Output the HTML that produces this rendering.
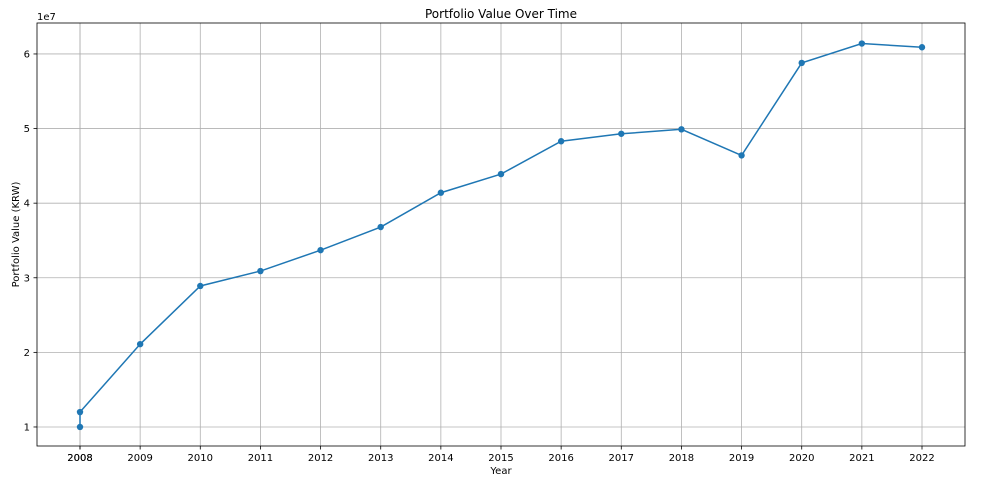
<!DOCTYPE html>
<html><head><meta charset="utf-8"><style>
body{margin:0;background:#fff;font-family:"Liberation Sans","DejaVu Sans",sans-serif;}
svg text{font-family:"DejaVu Sans","Liberation Sans",sans-serif;fill:#000}
</style></head><body>
<svg id="chart" width="988" height="484"></svg>
<script>
const years=[2008,2008,2009,2010,2011,2012,2013,2014,2015,2016,2017,2018,2019,2020,2021,2022];
const values=[10.0e6,12.0e6,21.1e6,28.9e6,30.9e6,33.7e6,36.8e6,41.4e6,43.9e6,48.3e6,49.3e6,49.9e6,46.4e6,58.8e6,61.4e6,60.9e6];
const xTicks=[2008,2009,2010,2011,2012,2013,2014,2015,2016,2017,2018,2019,2020,2021,2022];
const yTicks=[1e7,2e7,3e7,4e7,5e7,6e7];
const yTickLabels=["1","2","3","4","5","6"];
const L=37,R=965,T=23,B=446;
const x0=2007.285,x1=2022.715,y0=0.745e7,y1=6.415e7;
const sx=v=>L+(v-x0)/(x1-x0)*(R-L);
const sy=v=>B-(v-y0)/(y1-y0)*(B-T);
const svg=document.getElementById('chart');
const NS='http://www.w3.org/2000/svg';
function mk(t,a,p){const e=document.createElementNS(NS,t);for(const k in a)e.setAttribute(k,a[k]);(p||svg).appendChild(e);return e;}
// grid
yTicks.forEach((v,i)=>{
 const g=mk('line',{x1:L,x2:R,y1:sy(v),y2:sy(v),stroke:'#b0b0b0','stroke-width':0.8});
 
 
 mk('line',{x1:L-3.5,x2:L,y1:sy(v),y2:sy(v),stroke:'#000','stroke-width':0.8});
 const t=mk('text',{x:L-7,y:sy(v)+3.5,'text-anchor':'end','font-size':10});
 t.textContent=yTickLabels[i];
 
 
});
years.forEach(v=>{
 const g=mk('line',{x1:sx(v),x2:sx(v),y1:T,y2:B,stroke:'#b0b0b0','stroke-width':0.8});
 
 
 mk('line',{x1:sx(v),x2:sx(v),y1:B,y2:B+3.5,stroke:'#000','stroke-width':0.8});
 const t=mk('text',{x:sx(v),y:B+15,'text-anchor':'middle','font-size':10});
 t.textContent=v;
 
 
});
const f=mk('rect',{x:L,y:T,width:R-L,height:B-T,fill:'none',stroke:'#000','stroke-width':0.8});


const line=mk('polyline',{points:years.map((y,i)=>sx(y)+','+sy(values[i])).join(' '),fill:'none',stroke:'#1f77b4','stroke-width':1.5});


years.forEach((y,i)=>{
 const c=mk('circle',{cx:sx(y),cy:sy(values[i]),r:3.2,fill:'#1f77b4'});
 
 
});
let t=mk('text',{x:(L+R)/2,y:18,'text-anchor':'middle','font-size':12});t.textContent='Portfolio Value Over Time';


t=mk('text',{x:(L+R)/2,y:474,'text-anchor':'middle','font-size':10});t.textContent='Year';


t=mk('text',{x:0,y:0,'text-anchor':'middle','font-size':10,transform:'translate(19,'+((T+B)/2)+') rotate(-90)'});t.textContent='Portfolio Value (KRW)';


t=mk('text',{x:L,y:20,'font-size':10});t.textContent='1e7';


</script>
</body></html>
